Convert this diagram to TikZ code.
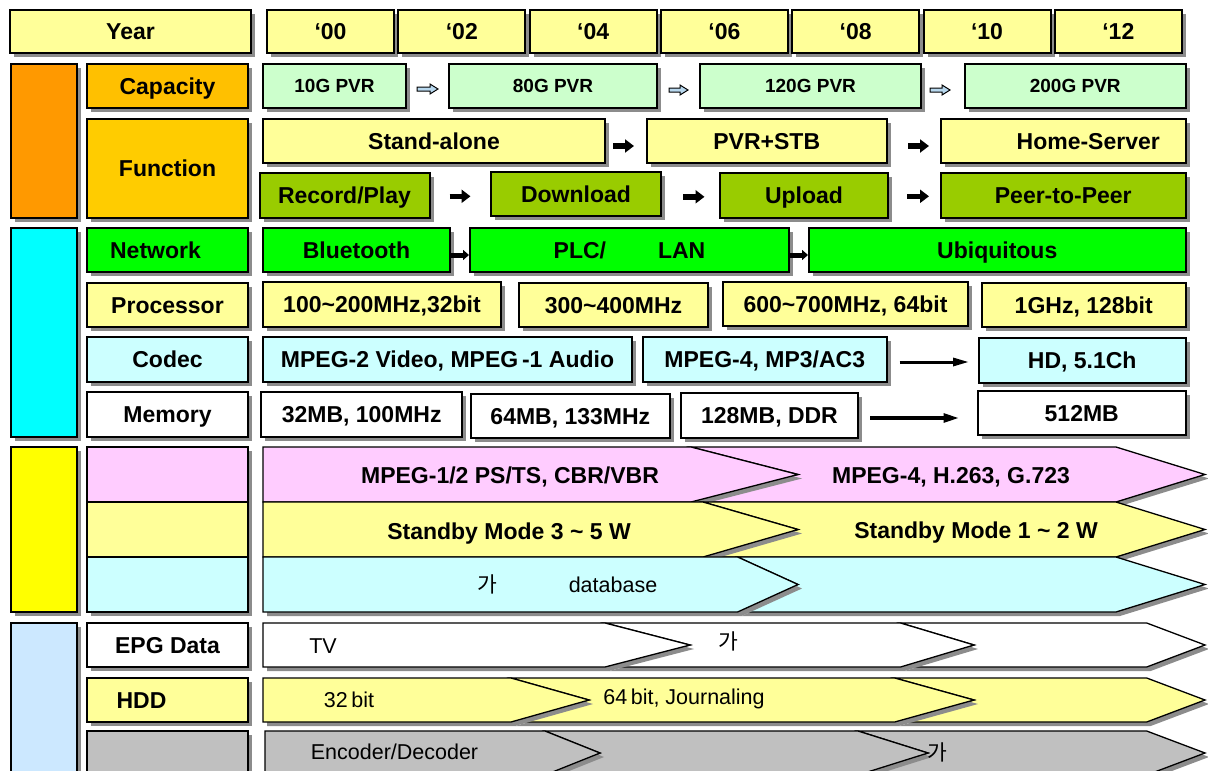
\documentclass[tikz,border=0pt]{standalone}
\usepackage{fontspec}
\setmainfont{Liberation Sans}
\newfontfamily\krfont{Noto Sans CJK KR}
\usetikzlibrary{positioning,arrows.meta,calc,shadows}

\definecolor{paleyel}{HTML}{FFFF99}
\definecolor{palecyan}{HTML}{CCFFFF}
\definecolor{palegreen}{HTML}{CCFFCC}
\definecolor{palepink}{HTML}{FFCCFF}
\definecolor{capor}{HTML}{FFC000}
\definecolor{funcor}{HTML}{FFCC00}
\definecolor{barorange}{HTML}{FF9900}
\definecolor{barcyan}{HTML}{00FFFF}
\definecolor{baryellow}{HTML}{FFFF00}
\definecolor{barblue}{HTML}{CCE8FF}
\definecolor{netgreen}{HTML}{00FF00}
\definecolor{olivegr}{HTML}{99CC00}
\definecolor{midgray}{HTML}{C0C0C0}
\definecolor{arrowblue}{HTML}{B8D8EE}

% flat-left band piece: style, x-left, x-right, x-tip, y-top, y-bottom
\newcommand{\bandfirst}[6]{%
  \pgfmathsetmacro{\bandmid}{(#5+#6)/2}%
  \path[#1] (#2,#5) -- (#3,#5) -- (#4,\bandmid) -- (#3,#6) -- (#2,#6) -- cycle;}
% notched band piece: style, x-left, x-notch, x-right, x-tip, y-top, y-bottom
\newcommand{\bandnext}[7]{%
  \pgfmathsetmacro{\bandmid}{(#6+#7)/2}%
  \path[#1] (#2,#6) -- (#4,#6) -- (#5,\bandmid) -- (#4,#7) -- (#2,#7) -- (#3,\bandmid) -- cycle;}
% hollow block arrow between two named coordinates
\newcommand{\hollowarrow}[2]{%
  \draw[holarrow] ($(#1)+(0,-2)$) -- ($(#2)+(-8,-2)$) -- ($(#2)+(-8,-5)$) -- (#2)
    -- ($(#2)+(-8,5)$) -- ($(#2)+(-8,2)$) -- ($(#1)+(0,2)$) -- cycle;}

\begin{document}
\begin{tikzpicture}[
  x=1pt, y=-1pt,
  shd/.style={drop shadow={shadow xshift=4pt, shadow yshift=-4pt, fill=black!45, opacity=1}},
  bx/.style={draw=black, line width=2pt, inner sep=0pt, shd, text height=16.5pt, text depth=0pt,
    font=\bfseries\fontsize{23}{27}\selectfont},
  bar/.style={bx, minimum width=66pt},
  lab/.style={bx, minimum width=161pt},
  capbox/.style={bx, fill=palegreen, minimum height=44pt, text height=13.6pt,
    font=\bfseries\fontsize{19}{23}\selectfont},
  funbox/.style={bx, fill=paleyel, minimum height=44pt},
  olivebox/.style={bx, fill=olivegr, minimum height=45pt},
  netbox/.style={bx, fill=netgreen, minimum height=44pt},
  procbox/.style={bx, fill=paleyel, minimum height=44pt},
  codbox/.style={bx, fill=palecyan, minimum height=45pt},
  membox/.style={bx, fill=white, minimum height=45pt},
  band/.style={draw=black, line width=1.3pt, line join=miter, shd},
  lbl/.style={inner sep=0pt, text height=16.5pt, text depth=0pt, font=\bfseries\fontsize{23}{27}\selectfont},
  regtxt/.style={inner sep=0pt, font=\fontsize{21.5}{25}\selectfont},
  blkarrow/.style={draw=black, line width=5.5pt, -{Triangle[length=9pt, width=13pt]}},
  netarrow/.style={draw=black, line width=5pt, -{Triangle[length=6pt, width=10pt]}},
  codarrow/.style={draw=black, line width=3pt, -{Triangle[length=16pt, width=8pt]}},
  memarrow/.style={draw=black, line width=4.5pt, -{Triangle[length=18pt, width=8pt]}},
  holarrow/.style={draw=black, line width=1pt, fill=arrowblue, line join=miter}
]
\useasboundingbox (0,0) rectangle (1208,771);
\clip (0,0) rectangle (1208,771);

% header
\node[bx, fill=paleyel, minimum width=241pt, minimum height=43pt] (year) at (130.5,31.5) {Year};
\foreach \yr [count=\i from 0] in {00,02,04,06,08,10,12}
  \node[bx, fill=paleyel, minimum width=127pt, minimum height=43pt] (yr\yr) at ({330.5+131.3*\i},31.5) {‘\yr};

% category bars
\node[bar, fill=barorange, minimum height=154pt] (barcap) at (43.6,141) {};
\node[bar, fill=barcyan, minimum height=209pt] (barhw) at (43.6,332.5) {};
\node[bar, fill=baryellow, minimum height=165pt] (barfmt) at (43.6,529.5) {};
\node[bar, fill=barblue, minimum height=177pt] (barsw) at (43.6,711) {};

% row labels
\node[lab, fill=capor, minimum height=44pt] (capacity) at (167.5,86) {Capacity};
\node[lab, fill=funcor, minimum height=99pt] (function) at (167.5,168.5) {Function};
\node[lab, fill=netgreen, minimum height=44pt] (network) at (167.5,250) {Network\hspace*{24pt}};
\node[lab, fill=paleyel, minimum height=44pt] (processor) at (167.5,305) {Processor};
\node[lab, fill=palecyan, minimum height=45pt] (codec) at (167.5,359.5) {Codec};
\node[lab, fill=white, minimum height=45pt] (memory) at (167.5,414.5) {Memory};
\node[lab, fill=palepink, minimum height=55pt] (fmtA) at (167.5,474.5) {};
\node[lab, fill=paleyel, minimum height=55pt] (fmtB) at (167.5,529.5) {};
\node[lab, fill=palecyan, minimum height=55pt] (fmtC) at (167.5,584.5) {};
\node[lab, fill=white, minimum height=44pt] (epg) at (167.5,645) {EPG Data};
\node[lab, fill=paleyel, minimum height=44pt] (hdd) at (167.5,700) {HDD\hspace*{52pt}};
\node[lab, fill=midgray, minimum height=44pt] (enc) at (167.5,753) {};

% capacity
\node[capbox, minimum width=143pt] (c10) at (334.5,86) {10G PVR};
\node[capbox, minimum width=208pt] (c80) at (553,86) {80G PVR};
\node[capbox, minimum width=221pt] (c120) at (810.5,86) {120G PVR};
\node[capbox, minimum width=221.5pt] (c200) at (1075.25,86) {200G PVR};
\coordinate (ha1s) at ([shift={(10,3)}]c10.east);
\coordinate (ha1e) at ([shift={(-10,3)}]c80.west);
\coordinate (ha2s) at ([shift={(11,4)}]c80.east);
\coordinate (ha2e) at ([shift={(-11,4)}]c120.west);
\coordinate (ha3s) at ([shift={(8,4)}]c120.east);
\coordinate (ha3e) at ([shift={(-13.5,4)}]c200.west);
\hollowarrow{ha1s}{ha1e}
\hollowarrow{ha2s}{ha2e}
\hollowarrow{ha3s}{ha3e}

% function
\node[funbox, minimum width=342pt] (sa) at (434,141) {Stand-alone};
\node[funbox, minimum width=240.5pt] (pvr) at (766.75,141) {PVR+STB};
\node[funbox, minimum width=244.5pt] (hs) at (1063.25,141) {\hspace*{50pt}Home-Server};
\draw[blkarrow] ([shift={(7,5)}]sa.east) -- ([shift={(-11.5,5)}]pvr.west);
\draw[blkarrow] ([shift={(20,5)}]pvr.east) -- ([shift={(-11,5)}]hs.west);
\node[olivebox, minimum width=170pt] (rp) at (344.5,195.3) {Record/Play};
\node[olivebox, minimum width=170pt, minimum height=44pt] (dl) at (576,193.8) {Download};
\node[olivebox, minimum width=168pt] (up) at (804,195.3) {Upload};
\node[olivebox, minimum width=244.5pt] (p2p) at (1063.25,195.3) {Peer-to-Peer};
\draw[blkarrow] ([shift={(19,1)}]rp.east) -- ([shift={(-19.5,2.5)}]dl.west);
\draw[blkarrow] ([shift={(21,3)}]dl.east) -- ([shift={(-14.5,1.5)}]up.west);
\draw[blkarrow] ([shift={(18,1)}]up.east) -- ([shift={(-11,1)}]p2p.west);

% network
\node[netbox, minimum width=187pt] (bt) at (356.5,250) {Bluetooth};
\node[netbox, minimum width=319pt] (plc) at (629.5,250) {PLC/\hspace{52pt}LAN};
\node[netbox, minimum width=376.5pt] (ubi) at (997.25,250) {Ubiquitous};
\draw[netarrow] ([shift={(0,5)}]bt.east) -- ([shift={(0,5)}]plc.west);
\draw[netarrow] ([shift={(0,5)}]plc.east) -- ([shift={(0,5)}]ubi.west);

% processor
\node[procbox, minimum width=238pt, minimum height=45pt] (p1) at (382,304.3) {100\textasciitilde200MHz,32bit};
\node[procbox, minimum width=189pt] (p2) at (613.5,305) {300\textasciitilde400MHz};
\node[procbox, minimum width=245pt] (p3) at (845.5,304) {600\textasciitilde700MHz, 64bit};
\node[procbox, minimum width=203.5pt] (p4) at (1083.75,305) {1GHz, 128bit};

% codec
\node[codbox, minimum width=369pt] (k1) at (447.5,359.5) {MPEG-2 Video, MPEG\,-1 Audio};
\node[codbox, minimum width=244.4pt] (k2) at (764.8,359.5) {MPEG-4, MP3/AC3};
\node[codbox, minimum width=206.5pt] (k3) at (1082.25,360.5) {HD, 5.1Ch};
\draw[codarrow] ([shift={(11.5,2.5)}]k2.east) -- ([shift={(-9,1.5)}]k3.west);

% memory
\node[membox, minimum width=200.6pt] (m1) at (361.7,414.5) {32MB, 100MHz};
\node[membox, minimum width=199.3pt, minimum height=44pt] (m2) at (570.35,416) {64MB, 133MHz};
\node[membox, minimum width=177pt] (m3) at (769.5,415.5) {128MB, DDR};
\node[membox, minimum width=207.5pt, minimum height=44pt] (m4) at (1081.75,412.9) {512MB};
\draw[memarrow] ([shift={(11,2.5)}]m3.east) -- ([shift={(-15.5,5.1)}]m4.west);

% format bands
\bandnext{band, fill=palepink}{691}{798}{1116}{1205}{447}{502}
\bandfirst{band, fill=palepink}{263}{691}{798}{447}{502}
\bandnext{band, fill=paleyel}{703}{798}{1116}{1205}{502}{557}
\bandfirst{band, fill=paleyel}{263}{703}{798}{502}{557}
\bandnext{band, fill=palecyan}{737.6}{798}{1116}{1205}{557}{612}
\bandfirst{band, fill=palecyan}{263}{737.6}{798}{557}{612}
\node[lbl] (fmt1) at (510,475) {MPEG-1/2 PS/TS, CBR/VBR};
\node[lbl] (fmt2) at (951,475) {MPEG-4, H.263, G.723};
\node[lbl] (pow1) at (509,531) {Standby Mode 3 \textasciitilde{} 5 W};
\node[lbl] (pow2) at (976,530) {Standby Mode 1 \textasciitilde{} 2 W};
\node[regtxt] (db1) at (487,584) {\krfont 가};
\node[regtxt] (db2) at (613,585) {database};

% software bands
\bandnext{band, fill=white}{900.5}{974}{1146.7}{1205}{623}{667}
\bandnext{band, fill=white}{605}{690}{900.5}{974}{623}{667}
\bandfirst{band, fill=white}{263}{605}{690}{623}{667}
\node[regtxt] (tv) at (323,646) {TV};
\node[regtxt] (epgk) at (728,641) {\krfont 가};
\bandnext{band, fill=paleyel}{894.7}{974}{1146.7}{1205}{678}{722}
\bandnext{band, fill=paleyel}{511}{589}{894.7}{974}{678}{722}
\bandfirst{band, fill=paleyel}{263}{511}{589}{678}{722}
\node[regtxt] (h32) at (349,700) {32\,bit};
\node[regtxt] (h64) at (684,699) {64\,bit, Journaling};
\bandnext{band, fill=midgray}{858}{928}{1146.7}{1205}{731}{775}
\bandnext{band, fill=midgray}{545}{600}{858}{928}{731}{775}
\bandfirst{band, fill=midgray}{265}{545}{600}{731}{775}
\node[regtxt] (encdec) at (394.5,752) {Encoder/Decoder};
\node[regtxt] (enck) at (937,752) {\krfont 가};

\end{tikzpicture}
\end{document}
